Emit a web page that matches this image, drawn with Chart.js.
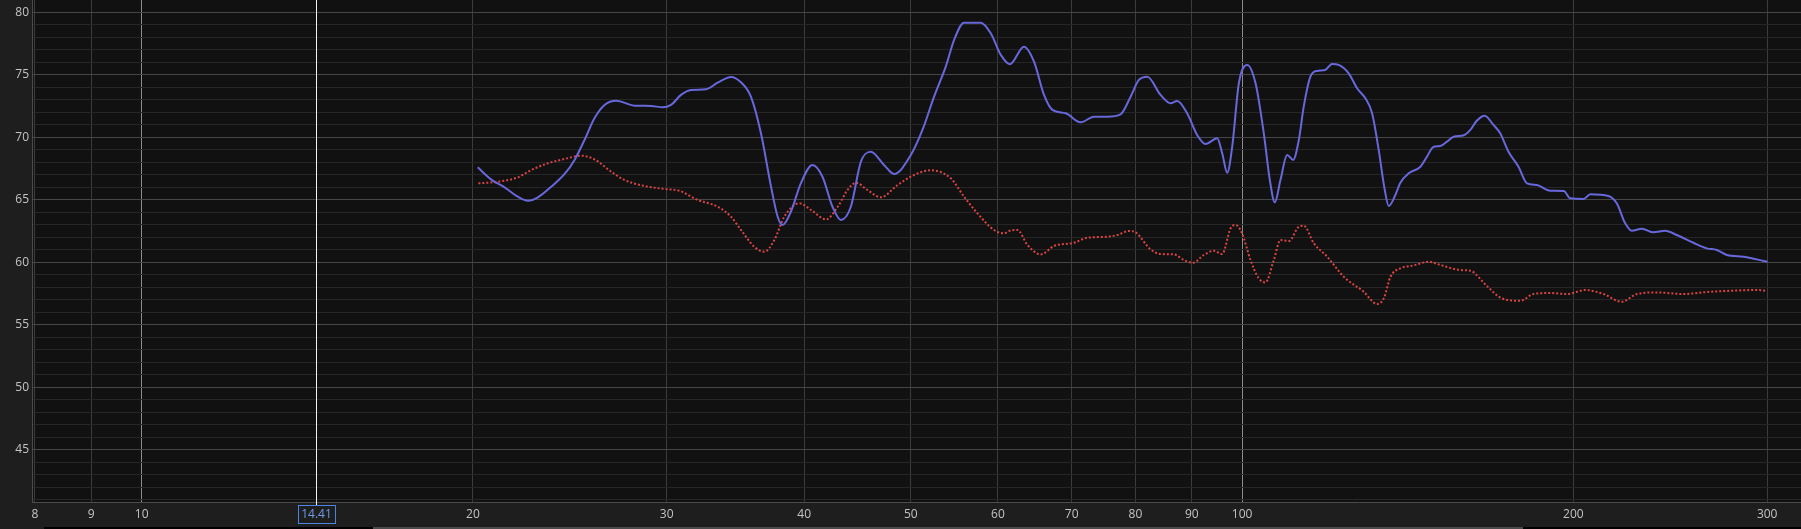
<!DOCTYPE html>
<html>
<head>
<meta charset="utf-8">
<script src="https://cdn.jsdelivr.net/npm/chart.js@4.4.1/dist/chart.umd.min.js"></script>
<style>
  html, body { margin: 0; padding: 0; background: #1e1e1e; overflow: hidden; }
  #wrap { position: relative; width: 1801px; height: 529px; }
  #track { position: absolute; left: 44px; right: 0; bottom: 0; height: 2px; background: #000; }
  #thumb { position: absolute; left: 373px; width: 1150px; bottom: 0; height: 2px; background: #4a4a4a; }
</style>
</head>
<body>
<div id="wrap">
  <canvas id="c"></canvas>
  <div id="track"></div>
  <div id="thumb"></div>
</div>
<script>
// ---- data (frequency in Hz, level in dB) ----
const blueFreq = [20.2,20.8,21.37,21.97,22.44,22.91,23.56,24.23,24.74,25.26,25.79,26.34,26.99,28.04,29.03,29.75,30.27,30.91,31.57,32.57,33.38,34.32,35.04,35.78,36.54,37.32,37.84,38.24,38.9,39.72,40.7,41.56,42.44,43.19,44.1,45.04,45.98,47.27,48.27,50.0,51.23,52.49,53.79,54.74,55.89,57.88,59.1,60.36,61.5,63.36,64.7,66.07,67.24,69.13,71.33,73.35,75.42,77.55,79.19,80.57,82.0,84.31,86.1,87.3,89.13,91.02,92.64,94.92,95.92,96.93,97.95,99.32,101.07,102.85,104.64,105.97,107.08,108.36,109.88,111.27,112.6,113.76,115.36,116.98,119.0,120.71,122.4,124.99,127.2,129.42,131.25,133.08,134.78,135.9,137.8,139.25,141.7,145.2,147.2,149.3,151.4,153.5,155.7,159.0,161.2,163.4,166.1,169.2,171.6,174.6,178.3,181.5,185.3,190.5,196.0,198.7,204.3,207.2,215.2,219.0,222.9,226.0,230.8,236.5,242.3,248.3,257.1,264.4,270.0,275.7,285.5,293.6,300.2];
const blueDb = [67.6,66.6,66.0,65.25,64.93,65.2,66.05,67.07,68.19,69.79,71.52,72.59,72.93,72.53,72.51,72.4,72.59,73.39,73.79,73.84,74.37,74.83,74.4,73.25,70.32,66.05,63.65,62.99,64.05,66.32,67.79,66.85,64.45,63.39,64.45,68.05,68.85,67.79,67.07,68.59,70.59,73.25,75.65,77.79,79.17,79.17,78.32,76.59,75.85,77.25,76.05,73.39,72.19,71.92,71.2,71.65,71.65,71.84,73.25,74.59,74.85,73.39,72.72,72.91,71.92,70.19,69.47,69.92,68.72,67.17,69.25,74.32,75.79,74.32,70.32,66.59,64.8,66.6,68.59,68.19,69.79,72.45,74.85,75.31,75.39,75.87,75.79,75.12,73.92,73.12,71.92,68.99,65.79,64.51,65.39,66.37,67.12,67.65,68.45,69.25,69.31,69.65,70.05,70.16,70.59,71.33,71.73,70.99,70.32,68.85,67.65,66.32,66.19,65.73,65.71,65.12,65.07,65.44,65.31,64.72,63.12,62.53,62.69,62.4,62.53,62.19,61.57,61.12,60.99,60.59,60.45,60.24,60.05];

const redFreq = [20.23,21.07,21.97,22.6,23.39,24.23,25.08,25.79,26.71,27.46,28.63,29.85,30.8,32.01,33.38,34.32,35.04,36.03,36.8,37.58,38.37,39.6,40.58,41.87,42.91,43.8,44.57,45.66,46.95,48.63,50.35,52.12,54.36,55.89,57.48,59.51,60.78,61.62,62.5,63.82,65.61,67.47,70.35,72.33,75.42,77.02,78.9,80.01,82.56,84.31,86.7,88.53,90.22,92.29,94.25,95.92,97.61,98.63,100.0,101.76,103.56,105.0,106.86,108.36,110.3,112.6,113.76,116.2,119.5,123.7,128.97,132.6,134.5,136.4,139.25,143.2,147.8,151.4,157.9,161.2,166.9,172.2,178.9,184.0,190.5,197.4,205.0,213.0,221.3,228.4,238.2,251.8,264.4,277.6,293.6,298.7];
const redDb = [66.32,66.45,66.8,67.39,67.92,68.27,68.53,68.24,67.25,66.59,66.11,65.87,65.73,64.99,64.45,63.65,62.6,61.25,60.85,61.79,63.65,64.72,64.19,63.44,64.45,65.79,66.37,65.79,65.2,66.19,66.99,67.36,66.72,65.25,63.92,62.59,62.32,62.55,62.59,61.39,60.64,61.31,61.57,61.97,62.05,62.19,62.51,62.4,61.04,60.67,60.64,60.19,59.97,60.59,60.93,60.67,62.72,62.99,62.32,60.19,58.72,58.4,60.19,61.79,61.71,62.85,62.93,61.52,60.45,58.85,57.65,56.67,57.12,58.85,59.52,59.76,60.05,59.79,59.39,59.33,58.11,57.12,56.93,57.47,57.55,57.47,57.79,57.47,56.85,57.47,57.6,57.47,57.63,57.73,57.79,57.73];

const xTickValues = [8,9,10,20,30,40,50,60,70,80,90,100,200,300];
const yLabelValues = [45,50,55,60,65,70,75,80];
const yMinorStep = 1;
const cursorFreq = 14.41;

// ---- build ----
const toPts = (xs, ys) => xs.map((x, i) => ({ x: x, y: ys[i] }));
const FONT = { family: "'Open Sans', 'Noto Sans', sans-serif", size: 12 };
const noPad = s => { s.paddingTop = 0; s.paddingBottom = 0; s.paddingLeft = 0; s.paddingRight = 0; };

const bgPlugin = {
  id: 'plotBg',
  beforeDraw(chart) {
    const { ctx, chartArea: a } = chart;
    ctx.save();
    ctx.fillStyle = '#111111';
    ctx.fillRect(a.left, a.top, a.right - a.left, a.bottom - a.top);
    ctx.restore();
  }
};

const cursorPlugin = {
  id: 'cursor',
  afterDatasetsDraw(chart) {
    const { ctx, chartArea: a, scales } = chart;
    const x = Math.round(scales.x.getPixelForValue(cursorFreq)) + 0.5;
    ctx.save();
    ctx.strokeStyle = '#f2f2f2';
    ctx.lineWidth = 1;
    ctx.beginPath();
    ctx.moveTo(x, a.top);
    ctx.lineTo(x, a.bottom + 3);
    ctx.stroke();
    ctx.restore();
  },
  afterDraw(chart) {
    const { ctx, chartArea: a, scales } = chart;
    const x = Math.round(scales.x.getPixelForValue(cursorFreq)) + 0.5;
    const label = String(cursorFreq);
    ctx.save();
    ctx.font = `${FONT.size}px ${FONT.family}`;
    const w = Math.ceil(ctx.measureText(label).width) + 6;
    const h = 18;
    const top = a.bottom + 3.5;
    const left = Math.round(x - w / 2) + 0.5;
    ctx.fillStyle = '#1e1e1e';
    ctx.fillRect(left, top, w, h);
    ctx.strokeStyle = '#4a86e0';
    ctx.lineWidth = 1;
    ctx.strokeRect(left, top, w, h);
    ctx.fillStyle = '#6f9be6';
    ctx.textAlign = 'center';
    ctx.textBaseline = 'middle';
    ctx.fillText(label, x, top + h / 2 + 0.5);
    ctx.restore();
  }
};

new Chart(document.getElementById('c'), {
  type: 'line',
  data: {
    datasets: [
      {
        label: 'Measurement',
        data: toPts(blueFreq, blueDb),
        borderColor: '#6868dc',
        borderWidth: 2,
        pointRadius: 0,
        cubicInterpolationMode: 'monotone',
        fill: false
      },
      {
        label: 'Reference',
        data: toPts(redFreq, redDb),
        borderColor: '#d94444',
        borderWidth: 2,
        borderDash: [2, 2],
        pointRadius: 0,
        cubicInterpolationMode: 'monotone',
        fill: false
      }
    ]
  },
  options: {
    responsive: true,
    maintainAspectRatio: false,
    animation: false,
    layout: { padding: 0 },
    plugins: { legend: { display: false }, tooltip: { enabled: false } },
    scales: {
      x: {
        type: 'logarithmic',
        min: 7.95,
        max: 322,
        afterBuildTicks: s => { s.ticks = xTickValues.map(v => ({ value: v })); },
        afterFit: s => { s.height = 27; noPad(s); },
        ticks: {
          autoSkip: false,
          maxRotation: 0,
          color: '#c4c4c4',
          font: FONT,
          padding: 5,
          callback: v => String(v)
        },
        grid: {
          drawTicks: false,
          color: c => (c.tick && (c.tick.value === 10 || c.tick.value === 100)) ? '#8c8c8c' : '#3c3c3c',
          lineWidth: 1
        },
        border: { color: '#4c4c4c', width: 1 }
      },
      y: {
        type: 'linear',
        min: 40.84,
        max: 80.98,
        afterBuildTicks: s => {
          const t = [];
          for (let v = Math.ceil(s.min); v <= Math.floor(s.max); v += yMinorStep) t.push({ value: v });
          s.ticks = t;
        },
        afterFit: s => { s.width = 32; noPad(s); },
        ticks: {
          autoSkip: false,
          color: '#c4c4c4',
          font: FONT,
          padding: 3,
          callback: v => yLabelValues.includes(v) ? String(v) : ''
        },
        grid: {
          drawTicks: false,
          color: c => (c.tick && yLabelValues.includes(c.tick.value)) ? '#464646' : '#262626',
          lineWidth: 1
        },
        border: { color: '#4c4c4c', width: 1 }
      }
    }
  },
  plugins: [bgPlugin, cursorPlugin]
});
</script>
</body>
</html>
